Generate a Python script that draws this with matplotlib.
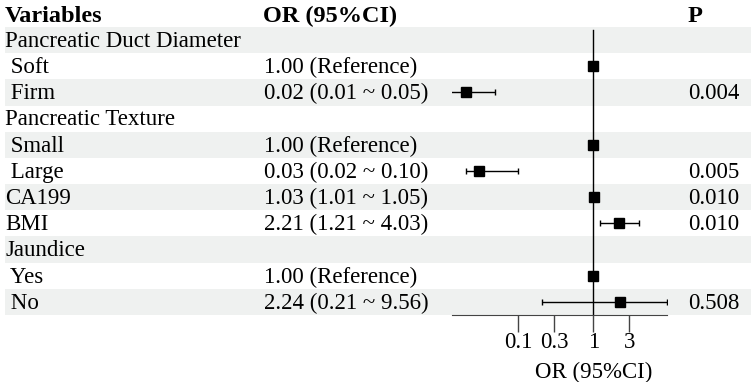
import matplotlib.pyplot as plt
from matplotlib.transforms import blended_transform_factory
from matplotlib.patches import Rectangle

plt.rcParams['font.family'] = ['Liberation Serif', 'DejaVu Serif']

# table rows (top to bottom)
variables = ['Pancreatic Duct Diameter', ' Soft', ' Firm', 'Pancreatic Texture', ' Small', ' Large',
             'CA199', 'BMI', 'Jaundice', ' Yes', ' No']
or_text = ['', '1.00 (Reference)', '0.02 (0.01 ~ 0.05)', '', '1.00 (Reference)', '0.03 (0.02 ~ 0.10)',
           '1.03 (1.01 ~ 1.05)', '2.21 (1.21 ~ 4.03)', '', '1.00 (Reference)', '2.24 (0.21 ~ 9.56)']
p_text = ['', '', '0.004', '', '', '0.005', '0.010', '0.010', '', '', '0.508']
est = [None, 1.00, 0.02, None, 1.00, 0.03, 1.03, 2.21, None, 1.00, 2.24]
lo = [None, None, 0.01, None, None, 0.02, 1.01, 1.21, None, None, 0.21]
hi = [None, None, 0.05, None, None, 0.10, 1.05, 4.03, None, None, 9.56]
ticks = [0.1, 0.3, 1, 3]
tick_labels = ['0.1', '0.3', '1', '3']

W, H = 756, 382
fig = plt.figure(figsize=(W / 100, H / 100), dpi=100)
ax = fig.add_axes([452 / W, (H - 315) / H, (667 - 452) / W, (315 - 27) / H])
ax.patch.set_visible(False)
n = len(variables)
ax.set_ylim(n - 0.5, -0.5)
ax.set_xscale('log')
ax.set_xlim(0.0132, 9.56)

tr = blended_transform_factory(fig.transFigure, ax.transData)

# zebra shading
for i in range(n):
    if i % 2 == 0:
        ax.add_patch(Rectangle((5 / W, i - 0.5), (751 - 5) / W, 1, transform=tr,
                               facecolor='#eff1f0', edgecolor='none', clip_on=False, zorder=0))

ax.axvline(1, ymax=0.99, color='black', lw=1, zorder=2)

for i in range(n):
    if est[i] is None:
        continue
    if lo[i] is not None:
        ax.errorbar(est[i], i, xerr=[[est[i] - lo[i]], [hi[i] - est[i]]], fmt='none',
                    ecolor='black', elinewidth=1, capsize=2.5, capthick=1, zorder=3)
    ax.plot(est[i], i, marker='s', color='black', markersize=7.5, zorder=4)

fs = 16.5
for i in range(n):
    ax.text(5 / W, i + 0.05, variables[i], transform=tr, ha='left', va='center', fontsize=fs)
    ax.text(264 / W, i + 0.05, or_text[i], transform=tr, ha='left', va='center', fontsize=fs)
    ax.text(688 / W, i + 0.05, p_text[i], transform=tr, ha='left', va='center', fontsize=fs)

hy = 1 - 16 / H
fig.text(5 / W, hy, 'Variables', ha='left', va='center', fontsize=17.5, fontweight='bold')
fig.text(263 / W, hy, 'OR (95%CI)', ha='left', va='center', fontsize=17.5, fontweight='bold')
fig.text(688 / W, hy, 'P', ha='left', va='center', fontsize=17.5, fontweight='bold')

for s in ['top', 'right', 'left']:
    ax.spines[s].set_visible(False)
ax.spines['bottom'].set_color('#444444')
ax.set_yticks([])
ax.set_xticks(ticks)
ax.set_xticklabels(tick_labels)
ax.minorticks_off()
ax.tick_params(axis='x', length=12, width=1, color='#444444', labelsize=fs, pad=0)
ax.text(1, -0.2, 'OR (95%CI)', transform=blended_transform_factory(ax.transData, ax.transAxes),
        ha='center', va='center', fontsize=fs)

fig.savefig('out.png', dpi=100)
